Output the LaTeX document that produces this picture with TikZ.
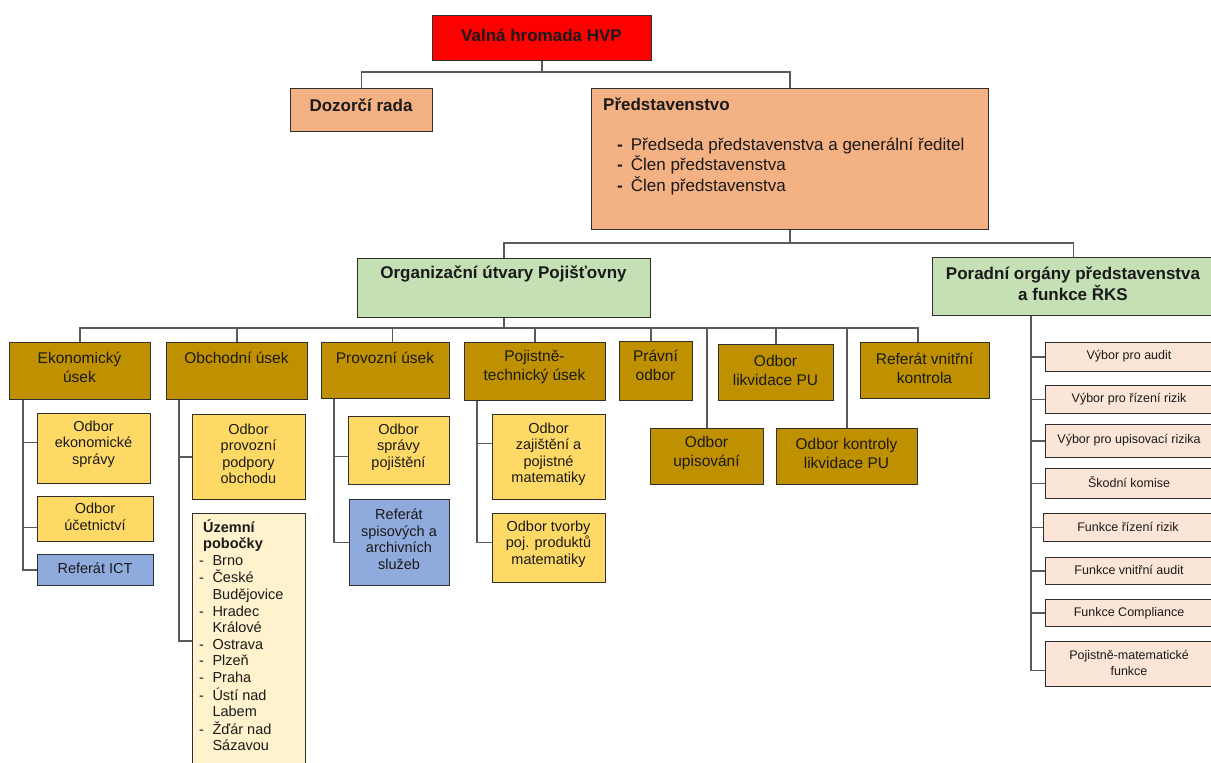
\documentclass[tikz,border=0pt]{standalone}
\usepackage{fontspec}
\setmainfont{Liberation Sans}
\usetikzlibrary{calc}
\definecolor{cred}{HTML}{FF0000}
\definecolor{csal}{HTML}{F4B183}
\definecolor{cgrn}{HTML}{C5E0B4}
\definecolor{cbrn}{HTML}{BF9000}
\definecolor{cyel}{HTML}{FFD966}
\definecolor{cblu}{HTML}{8FAADC}
\definecolor{ccrm}{HTML}{FFF2CC}
\definecolor{cpch}{HTML}{FBE5D6}
\definecolor{bord}{HTML}{2F2F2F}
\definecolor{cline}{HTML}{5A5A5A}
\definecolor{ctxt}{HTML}{1A1A1A}
\newcommand\fs[2]{\fontsize{#1}{#2}\selectfont}
\newcommand\bx[8]{%
  \node[#6, minimum width={(#4-#2)*1pt}, minimum height={(#5-#3)*1pt}, anchor=north west] (#1) at (#2,#3) {};
  \node[#6 text] (#1t) at ({(#2+#4)/2},#7) {#8};
}
\tikzset{
  box/.style={draw=bord, line width=1.3pt, inner sep=0pt},
  red/.style={box, fill=cred},
  sal/.style={box, fill=csal},
  grn/.style={box, fill=cgrn},
  brn/.style={box, fill=cbrn},
  yel/.style={box, fill=cyel},
  blu/.style={box, fill=cblu},
  crm/.style={box, fill=ccrm},
  pch/.style={box, fill=cpch},
  red text/.style={font=\fs{17}{20}\bfseries, align=center, text=ctxt, inner sep=0pt},
  sal text/.style={font=\fs{17}{20}\bfseries, align=center, text=ctxt, inner sep=0pt},
  grn text/.style={font=\fs{17}{21}\bfseries, align=center, text=ctxt, inner sep=0pt},
  brn text/.style={font=\fs{15.5}{19}, align=center, text=ctxt, inner sep=0pt},
  yel text/.style={font=\fs{14.5}{16.5}, align=center, text=ctxt, inner sep=0pt},
  blu text/.style={font=\fs{14.5}{16.5}, align=center, text=ctxt, inner sep=0pt},
  pch text/.style={font=\fs{12.5}{16}, align=center, text=ctxt, inner sep=0pt},
  conn/.style={draw=cline, line width=1.4pt},
}
\begin{document}
\begin{tikzpicture}[x=1pt,y=-1pt]
\fill[white] (0,0) rectangle (1211,763);
\useasboundingbox (0,0) rectangle (1211,763);

% top levels
\bx{valna}{432}{15}{651}{60}{red}{35}{Valná hromada HVP}
\bx{dozor}{290}{88}{432}{131}{sal}{105}{Dozorčí rada}
\node[sal, minimum width=397pt, minimum height=141pt, anchor=north west] (pred) at (591,88) {};
\node[anchor=west, font=\fs{17}{20}\bfseries, text=ctxt, inner sep=0pt] (predt) at (603,104) {Představenstvo};
\node[anchor=base west, font=\fs{17}{20}, text=ctxt, inner sep=0pt] (predl) at (617,150)
  {\begin{tabular}[t]{@{}l@{\hspace{8pt}}l@{}}\textbf{-} & Předseda představenstva a generální ředitel\\
   \textbf{-} & Člen představenstva\\ \textbf{-} & Člen představenstva\end{tabular}};

\bx{org}{357}{258}{650}{317}{grn}{274}{Organizační útvary Pojišťovny}
\bx{porad}{932}{257}{1214}{315}{grn}{284}{Poradní orgány představenstva\\a funkce ŘKS}

% sections
\bx{ekon}{9}{342}{150}{399}{brn}{367}{Ekonomický\\úsek}
\bx{obch}{166}{342}{307}{399}{brn}{358}{Obchodní úsek}
\bx{prov}{321}{342}{449}{398}{brn}{358}{Provozní úsek}
\bx{pojt}{464}{342}{605}{400}{brn}{367}{Pojistně-\\technický úsek}
\bx{prav}{619}{341}{692}{400}{brn}{365}{Právní\\odbor}
\bx{likv}{718}{344}{833}{400}{brn}{370}{Odbor\\likvidace PU}
\bx{refv}{860}{342}{989}{398}{brn}{368}{Referát vnitřní\\kontrola}
\bx{upis}{650}{428}{763}{484}{brn}{453}{Odbor\\upisování}
\bx{kontr}{776}{428}{917}{484}{brn}{453}{Odbor kontroly\\likvidace PU}

% departments
\bx{ekspr}{37}{413}{150}{483}{yel}{444}{Odbor\\ekonomické\\správy}
\bx{ucet}{37}{496}{153}{541}{yel}{517}{Odbor\\účetnictví}
\bx{ict}{37}{554}{153}{585}{blu}{568}{Referát ICT}
\bx{obpp}{192}{414}{305}{499}{yel}{454}{Odbor\\provozní\\podpory\\obchodu}
\node[crm, minimum width=113pt, minimum height=257pt, anchor=north west] (uzem) at (192,513) {};
\node[anchor=base west, font=\fs{14.5}{16.6}, text=ctxt, inner sep=0pt] (uzemt) at (199,532)
  {\begin{tabular}[t]{@{}l@{\hspace{8.5pt}}l@{}}
   \multicolumn{2}{@{\hspace{4pt}}l}{\textbf{Územní}}\\
   \multicolumn{2}{@{\hspace{4pt}}l}{\textbf{pobočky}}\\
   - & Brno\\ - & České\\ & Budějovice\\ - & Hradec\\ & Králové\\ - & Ostrava\\
   - & Plzeň\\ - & Praha\\ - & Ústí nad\\ & Labem\\ - & Žďár nad\\ & Sázavou
   \end{tabular}};
\bx{spr}{348}{416}{449}{484}{yel}{447}{Odbor\\správy\\pojištění}
\bx{spis}{349}{499}{449}{585}{blu}{539}{Referát\\spisových a\\archivních\\služeb}
\bx{zaj}{492}{414}{605}{499}{yel}{454}{Odbor\\zajištění a\\pojistné\\matematiky}
\bx{tvor}{492}{513}{605}{582}{yel}{544}{Odbor tvorby\\poj. produktů\\matematiky}

% advisory
\bx{audit}{1045}{342}{1213}{371}{pch}{356}{Výbor pro audit}
\bx{rizeni}{1045}{385}{1213}{413}{pch}{399}{Výbor pro řízení rizik}
\bx{upisr}{1045}{424}{1213}{457}{pch}{440}{Výbor pro upisovací rizika}
\bx{skod}{1045}{468}{1213}{498}{pch}{482}{Škodní komise}
\bx{frr}{1043}{513}{1213}{541}{pch}{527}{Funkce řízení rizik}
\bx{fva}{1045}{557}{1213}{584}{pch}{570}{Funkce vnitřní audit}
\bx{fcom}{1045}{599}{1213}{626}{pch}{613}{Funkce Compliance}
\bx{pmf}{1045}{641}{1213}{686}{pch}{663}{Pojistně-matematické\\funkce}

% connectors: top
\coordinate (b1) at (0,72);
\draw[conn] (valna.south) -- (valna.south |- b1);
\draw[conn] (dozor.north) |- (valna.south |- b1) -| (pred.north);
\coordinate (b2) at (0,243);
\draw[conn] (pred.south) -- (pred.south |- b2);
\draw[conn] (org.north) |- (pred.south |- b2) -| (porad.north);

% connectors: sections bus
\coordinate (b3) at (0,328);
\coordinate (provtop) at ([xshift=7pt]prov.north);
\coordinate (pravtop) at ([xshift=-5pt]prav.north);
\coordinate (refvtop) at ([xshift=-7pt]refv.north);
\draw[conn] (org.south) -- (org.south |- b3);
\draw[conn] (ekon.north) |- (refvtop |- b3) -- (refvtop);
\foreach \n in {obch.north, provtop, pojt.north, pravtop, upis.north, likv.north, kontr.north}
  \draw[conn] (\n) -- (\n |- b3);

% Ekonomicky
\coordinate (ekv) at ([xshift=14pt]ekon.south west);
\coordinate (ekspr-b) at ([yshift=6pt]ekspr.west);
\coordinate (ucet-b) at ([yshift=-8.5pt]ucet.west);
\draw[conn] (ekv) |- (ict.west);
\draw[conn] (ekspr-b) -- (ekspr-b -| ekv);
\draw[conn] (ucet-b) -- (ucet-b -| ekv);

% Obchodni
\coordinate (obv) at ([xshift=13pt]obch.south west);
\coordinate (uzb) at (192,641);
\draw[conn] (obv) |- (uzb);
\draw[conn] (obpp.west) -- (obpp.west -| obv);

% Provozni
\coordinate (prv) at ([xshift=13pt]prov.south west);
\coordinate (spr-b) at ([yshift=-6pt]spr.west);
\draw[conn] (prv) |- (spis.west);
\draw[conn] (spr-b) -- (spr-b -| prv);

% Pojistne-technicky
\coordinate (pjv) at ([xshift=13pt]pojt.south west);
\coordinate (zaj-b) at ([yshift=13.5pt]zaj.west);
\coordinate (tvor-b) at ([yshift=5.5pt]tvor.west);
\draw[conn] (pjv) |- (tvor-b);
\draw[conn] (zaj-b) -- (zaj-b -| pjv);

% Poradni
\coordinate (porv) at ([xshift=99pt]porad.south west);
\coordinate (pmf-b) at ([yshift=-6.5pt]pmf.west);
\draw[conn] (porv) |- (pmf-b);
\foreach \n in {audit, rizeni, upisr, skod, frr, fva, fcom}
  \draw[conn] (\n.west) -- (\n.west -| porv);
\end{tikzpicture}
\end{document}
